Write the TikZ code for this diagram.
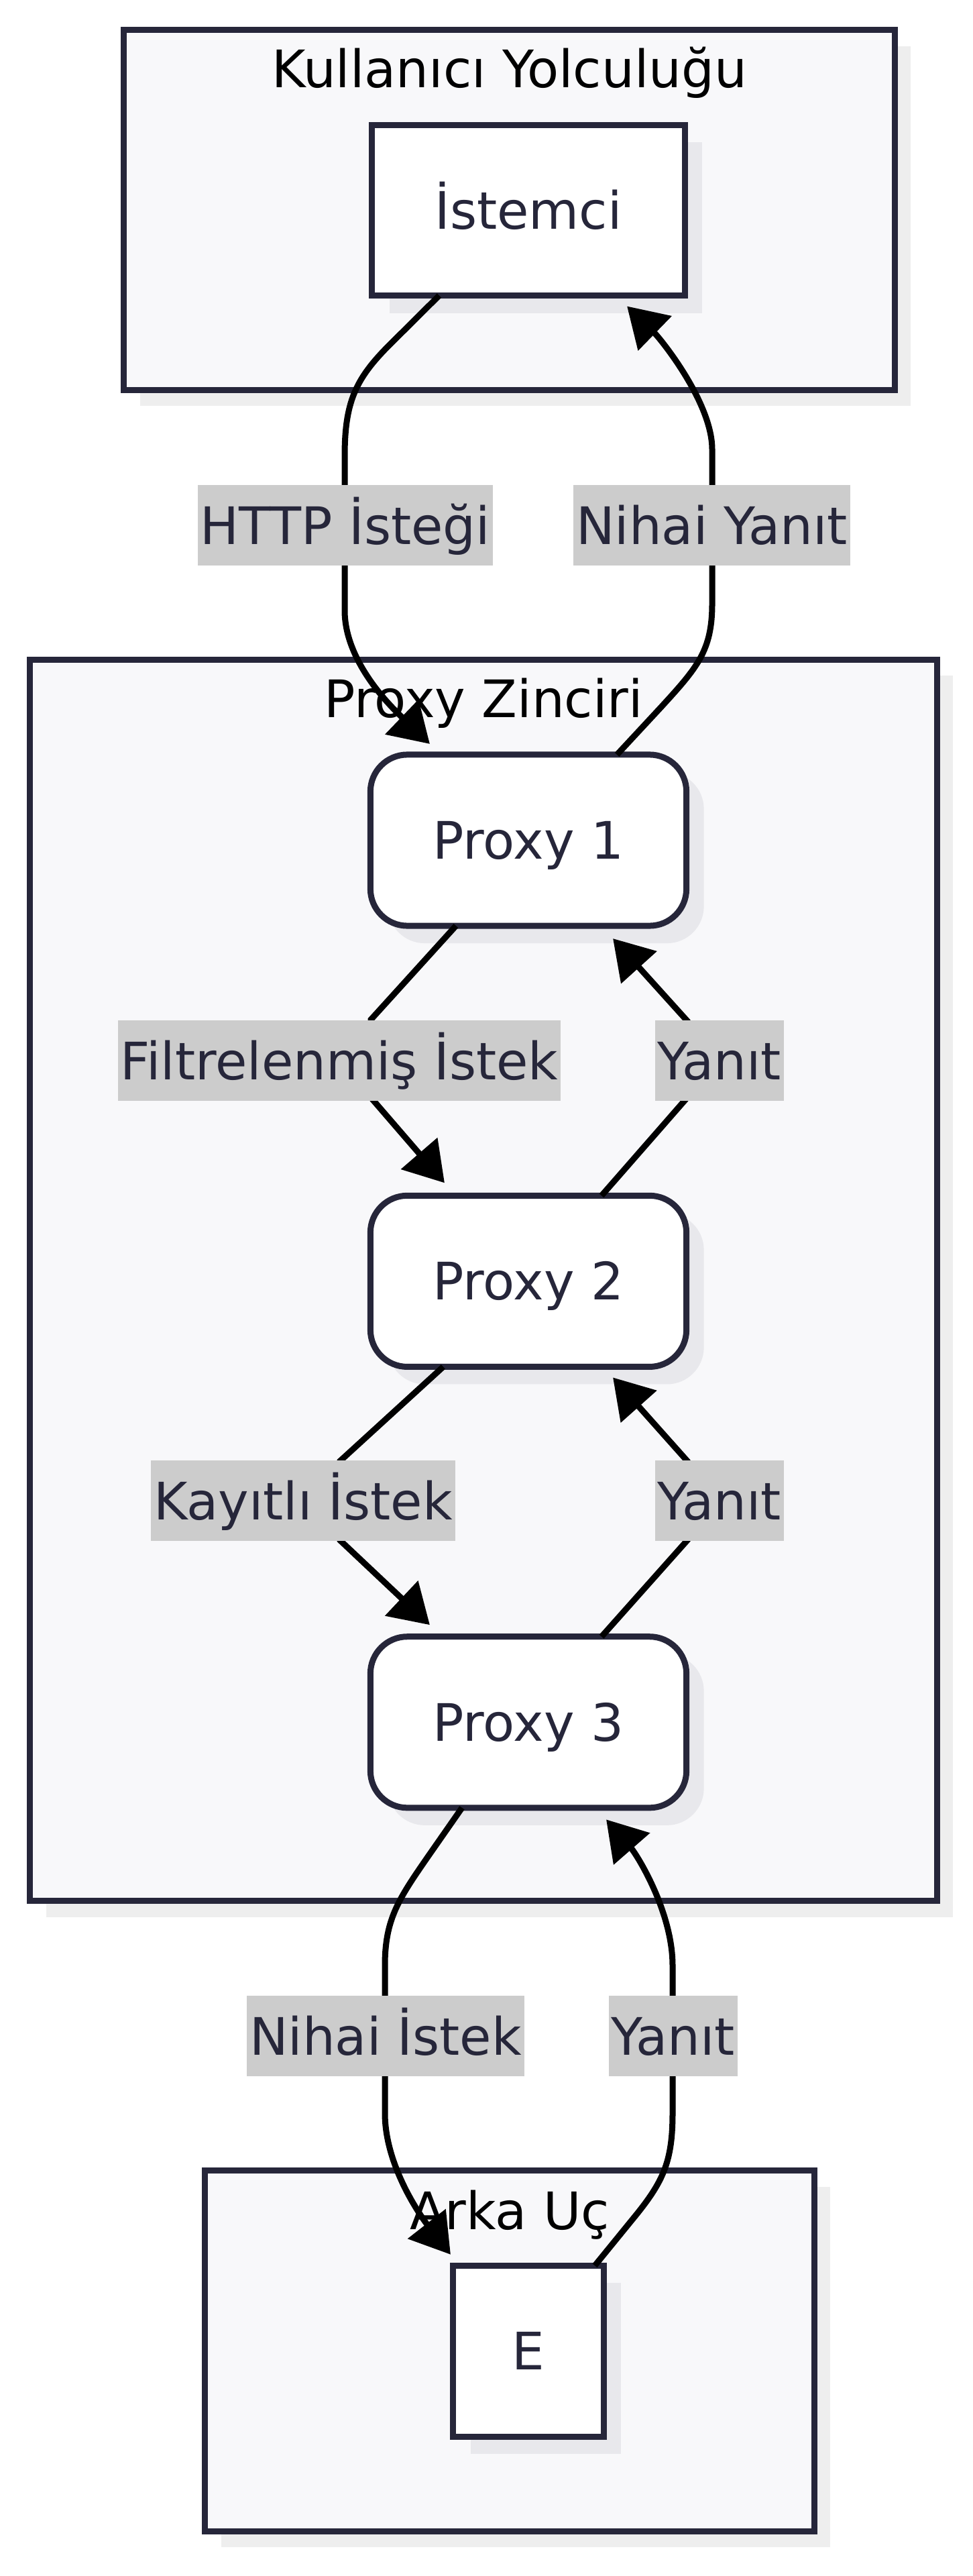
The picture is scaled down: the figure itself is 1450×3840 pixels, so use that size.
\documentclass[tikz,border=0pt]{standalone}
\usepackage{fontspec}
\setmainfont{DejaVu Sans}
\usetikzlibrary{arrows.meta,shadows,positioning}
\definecolor{inkc}{HTML}{26263A}
\definecolor{grpfill}{HTML}{F8F8FA}
\definecolor{grpshade}{HTML}{EEEEEE}
\definecolor{boxshade}{HTML}{E8E8EC}
\definecolor{lblfill}{HTML}{CCCCCC}
\tikzset{
  bigtext/.style={font=\fontsize{21.9pt}{26pt}\selectfont},
  grp/.style={draw=inkc, line width=0.09cm, fill=grpfill, outer sep=0pt,
    drop shadow={shadow xshift=0.24cm, shadow yshift=-0.24cm, fill=grpshade, opacity=1}},
  grptitle/.style={bigtext, text=black, inner sep=0pt, anchor=base},
  srvbox/.style={draw=inkc, line width=0.09cm, fill=white, text=inkc, bigtext, outer sep=0pt,
    text height=0.56cm, text depth=0pt, minimum height=2.55cm,
    drop shadow={shadow xshift=0.26cm, shadow yshift=-0.26cm, fill=boxshade, opacity=1}},
  proxybox/.style={srvbox, rounded corners=0.55cm, minimum width=4.71cm},
  flow/.style={line width=0.09cm, draw=black, -{Triangle[length=0.58cm,width=0.7cm]}},
  lbl/.style={fill=lblfill, text=inkc, bigtext, inner xsep=0.04cm, inner ysep=0pt,
    text height=0.56cm, text depth=0pt, minimum height=1.19cm}
}
\begin{document}
\begin{tikzpicture}[x=0.01cm, y=-0.01cm]
    \useasboundingbox (0,0) rectangle (1450,3840);
    % subgraphs
    \node[grp, minimum width=11.49cm, minimum height=5.36cm] (grpuser) at (759.5,313) {};
    \node[grp, minimum width=13.52cm, minimum height=18.49cm] (grpchain) at (721,1908.5) {};
    \node[grp, minimum width=9.08cm, minimum height=5.37cm] (grpback) at (760,3504.5) {};
    \node[grptitle] (ttluser) at ([yshift=-0.86cm]grpuser.north) {Kullanıcı Yolculuğu};
    \node[grptitle] (ttlchain) at ([yshift=-0.86cm]grpchain.north) {Proxy Zinciri};
    \node[grptitle] (ttlback) at ([yshift=-0.88cm]grpback.north) {Arka Uç};
    % nodes
    \node[proxybox] (p1) at (788,1252.5) {Proxy 1};
    \node[proxybox, below=4.02cm of p1] (p2) {Proxy 2};
    \node[proxybox, below=4.02cm of p2] (p3) {Proxy 3};
    \node[srvbox, minimum width=4.66cm, minimum height=2.54cm, above=6.84cm of p1] (istemci) {İstemci};
    \node[srvbox, minimum width=2.24cm, below=6.82cm of p3] (e) {E};
    % edges
    \draw[flow] ([xshift=-1.33cm]istemci.south) -- (580,515) .. controls (530,565) and (514,600) .. (514,680)
        -- (514,910) .. controls (514,990) and (590,1060) .. ([xshift=-1.47cm,yshift=0.16cm]p1.north);
    \draw[flow] ([xshift=1.32cm]p1.north) -- (985,1055) .. controls (1040,995) and (1062,970) .. (1062,900)
        -- (1062,670) .. controls (1062,600) and (985,505) .. ([xshift=1.47cm,yshift=-0.16cm]istemci.south);
    \draw[flow] ([xshift=-1.08cm]p1.south) -- (553,1520) -- (553,1636) -- ([xshift=-1.25cm,yshift=0.19cm]p2.north);
    \draw[flow] ([xshift=1.09cm]p2.north) -- (1025,1636) -- (1025,1522) -- ([xshift=1.26cm,yshift=-0.19cm]p1.south);
    \draw[flow] ([xshift=-1.27cm]p2.south) -- (507,2178) -- (507,2296) -- ([xshift=-1.47cm,yshift=0.175cm]p3.north);
    \draw[flow] ([xshift=1.09cm]p3.north) -- (1025,2296) -- (1025,2178) -- ([xshift=1.26cm,yshift=-0.16cm]p2.south);
    \draw[flow] ([xshift=-0.99cm]p3.south) -- (640,2765) .. controls (595,2830) and (574,2860) .. (574,2930)
        -- (574,3150) .. controls (574,3230) and (630,3307) .. ([xshift=-1.16cm,yshift=0.165cm]e.north);
    \draw[flow] ([xshift=0.99cm]e.north) -- (950,3300) .. controls (990,3250) and (1003,3220) .. (1003,3150)
        -- (1003,2930) .. controls (1003,2850) and (950,2765) .. ([xshift=1.16cm,yshift=-0.175cm]p3.south);
    % edge labels
    \node[lbl] (lblhttp) at (515,783) {HTTP İsteği};
    \node[lbl] (lblfinalres) at (1061.5,783) {Nihai Yanıt};
    \node[lbl] (lblfilter) at (506,1581) {Filtrelenmiş İstek};
    \node[lbl] (lblresa) at (1073,1581) {Yanıt};
    \node[lbl] (lbllog) at (452,2237) {Kayıtlı İstek};
    \node[lbl] (lblresb) at (1073,2237) {Yanıt};
    \node[lbl] (lblfinalreq) at (575,3035) {Nihai İstek};
    \node[lbl] (lblresc) at (1004,3035) {Yanıt};
\end{tikzpicture}
\end{document}
